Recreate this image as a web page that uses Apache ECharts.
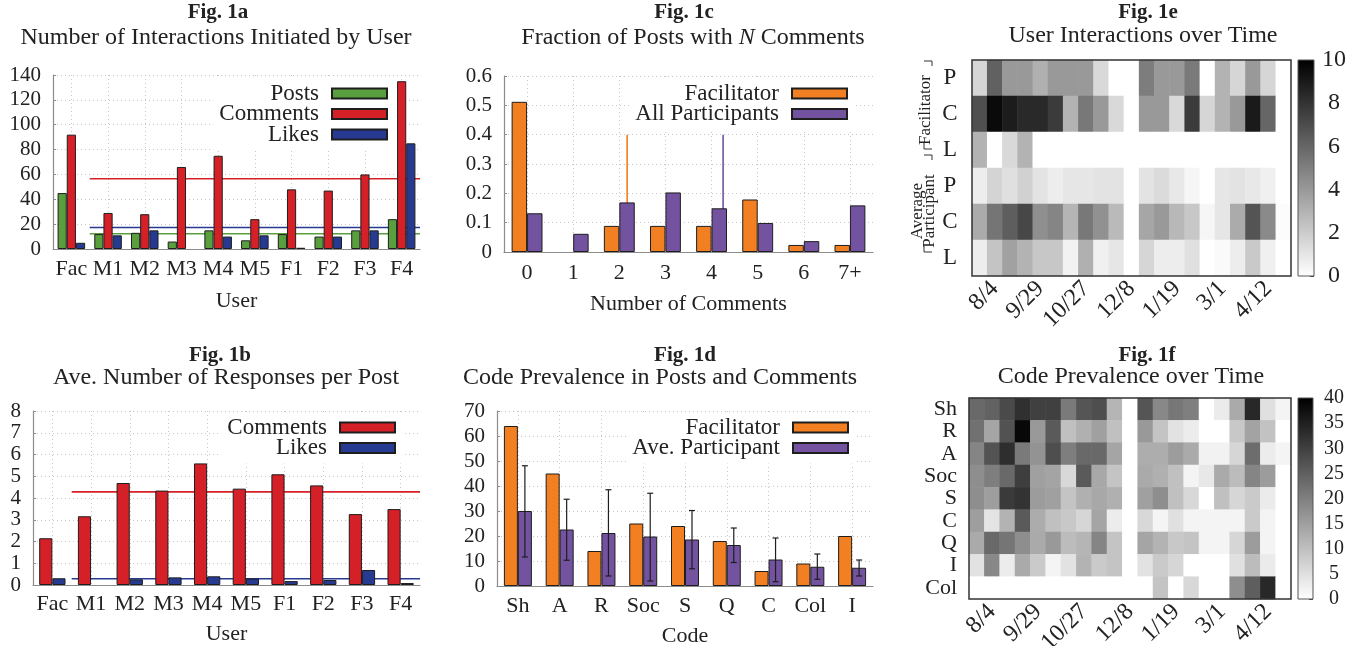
<!DOCTYPE html>
<html>
<head>
<meta charset="utf-8">
<script src="https://cdn.jsdelivr.net/npm/echarts@6/dist/echarts.min.js"></script>
<style>
  html, body { margin: 0; padding: 0; background: #fff; }
  #chart { width: 1366px; height: 646px; }
</style>
</head>
<body>
<div id="chart"></div>
<script>
// ---- Fig 1a / 1b : per user ----
const users = ['Fac', 'M1', 'M2', 'M3', 'M4', 'M5', 'F1', 'F2', 'F3', 'F4'];
const posts = [45, 12, 13, 6, 15, 7, 12, 10, 15, 24];
const comments = [92, 29, 28, 66, 75, 24, 48, 47, 60, 135];
const likes = [5, 11, 15, 0, 10, 11, 1, 10, 15, 85];
const avgPosts = 12.3;
const avgComments = 56.5;
const avgLikes = 17.3;

const commentsPerPost = [2.15, 3.16, 4.69, 4.34, 5.59, 4.43, 5.09, 4.58, 3.26, 3.49];
const likesPerPost = [0.31, 0, 0.26, 0.35, 0.40, 0.30, 0.18, 0.23, 0.69, 0.09];
const avgCommentsPerPost = 4.28;
const avgLikesPerPost = 0.29;

// ---- Fig 1c : fraction of posts with N comments ----
const nComments = ['0', '1', '2', '3', '4', '5', '6', '7+'];
const facFraction = [0.512, 0, 0.089, 0.089, 0.089, 0.179, 0.024, 0.024];
const allFraction = [0.132, 0.062, 0.169, 0.203, 0.149, 0.099, 0.037, 0.159];
const facMeanN = 2.17;
const allMeanN = 4.25;
const meanLineTop = 0.4;

// ---- Fig 1d : code prevalence ----
const codes = ['Sh', 'A', 'R', 'Soc', 'S', 'Q', 'C', 'Col', 'I'];
const facCode = [64, 45, 14, 25, 24, 18, 6, 9, 20];
const partCode = [30, 22.6, 21.2, 19.8, 18.6, 16.4, 10.6, 7.7, 7.3];
const partLow = [11.6, 10.3, 4.0, 2.0, 6.9, 9.4, 1.7, 2.7, 4.0];
const partHigh = [48.1, 34.7, 38.5, 37.1, 30.2, 23.2, 19.2, 12.8, 10.4];

// ---- Fig 1e / 1f : heatmaps over time ----
const timeTicks = ['', '8/4', '', '', '9/29', '', '', '10/27', '', '', '12/8', '', '', '1/19', '', '', '3/1', '', '', '4/12', ''];
const rowsE = ['P', 'C', 'L', 'P', 'C', 'L'];
const facP = [1.6, 6.2, 4.0, 4.0, 3.1, 4.0, 4.0, 4.0, 1.5, 0, 0, 5.1, 4.0, 4.0, 5.2, 0, 3.0, 1.6, 4.0, 1.6, 0];
const facC = [6.9, 9.6, 8.9, 8.4, 8.4, 7.7, 3.0, 5.3, 4.0, 1.5, 0, 4.0, 4.0, 1.5, 7.7, 1.6, 3.0, 4.0, 9.0, 6.0, 0];
const facL = [3.0, 0, 1.5, 3.0, 0, 0, 0, 0, 0, 0, 0, 0, 0, 0, 0, 0, 0, 0, 0, 0, 0];
const avgP = [0.7, 1.7, 1.2, 1.8, 1.1, 0.7, 1.0, 1.0, 1.1, 1.1, 0, 1.1, 1.4, 0.9, 0.35, 0, 1.0, 1.1, 0.9, 0.6, 0];
const avgC = [3.3, 5.4, 6.3, 7.2, 4.4, 4.8, 2.9, 5.3, 4.3, 2.7, 0, 3.5, 4.0, 2.8, 2.2, 0.35, 1.0, 3.3, 6.7, 4.6, 0.1];
const avgL = [0.7, 2.3, 3.7, 3.0, 2.2, 2.2, 0.5, 3.1, 0.6, 1.0, 0, 1.6, 0.7, 0.7, 1.2, 0, 0.2, 0.7, 2.1, 0.6, 0];

const rowsF = ['Sh', 'R', 'A', 'Soc', 'S', 'C', 'Q', 'I', 'Col'];
const codeSh = [23.5, 24.6, 28.4, 32.5, 30, 30, 20.9, 26.7, 27.8, 11.6, 0, 26.7, 18.7, 21.3, 20.1, 0, 3.1, 13.3, 33.7, 4.9, 1.7];
const codeR = [22.3, 14.1, 27.1, 38.7, 16, 25.9, 9.9, 12.4, 14.9, 9.9, 0, 16, 9.3, 4.5, 3.0, 0, 0, 8.6, 14.4, 9.6, 0];
const codeA = [19.1, 27, 32.8, 20.9, 16.9, 27.8, 20.2, 23.5, 23.5, 14.1, 0, 12.9, 12.9, 15.5, 13.3, 2.0, 2.0, 6.4, 22.9, 3.0, 1.7];
const codeSoc = [17.7, 20.2, 23.5, 30.3, 14.9, 14.3, 6.1, 25.9, 13.6, 9.3, 0, 13.3, 12.4, 9.9, 1.7, 3.6, 13.3, 10.5, 19.1, 15.5, 0];
const codeS = [17.7, 15.2, 30.9, 32, 15.5, 14.9, 9.3, 12.4, 13.6, 12.4, 0, 14.9, 17.7, 9.9, 6.1, 0, 9.9, 6.4, 8.3, 3.1, 0];
const codeC = [15.2, 4.2, 11.9, 25.9, 13, 9.9, 8.6, 6.4, 14.1, 3.0, 0, 6.1, 1.7, 4.9, 1.7, 1.7, 1.7, 1.7, 8.3, 1.7, 0];
const codeQ = [13.3, 23.5, 21.6, 17.7, 13.3, 16, 10.5, 11.6, 19.1, 9.3, 0, 14.1, 11.9, 8.6, 9.3, 1.7, 1.7, 6.4, 15.5, 1.7, 0];
const codeI = [4.5, 18.7, 3.0, 13.3, 8.3, 1.7, 4.5, 11.9, 8.3, 9.3, 0, 4.5, 8.3, 6.4, 0, 0, 0, 4.9, 10.5, 3.1, 0];
const codeCol = [0, 0, 0, 0, 0, 0, 0, 0, 0, 0, 0, 0, 9.3, 0, 6.1, 0, 0, 17.7, 25.3, 33.7, 0];

// ---- styling ----
const font = 'Liberation Serif';
const ink = '#222';
const axisGray = '#8c8c8c';
const C_GREEN = '#5a9f3e';
const C_RED = '#d62028';
const C_BLUE = '#263a92';
const C_ORANGE = '#f27f21';
const C_PURPLE = '#7352a0';

const toCells = (rows) => {
  const out = [];
  rows.forEach((row, r) => row.forEach((v, c) => out.push([c, r, v])));
  return out;
};
const heatE = toCells([facP, facC, facL, avgP, avgC, avgL]);
const heatF = toCells([codeSh, codeR, codeA, codeSoc, codeS, codeC, codeQ, codeI, codeCol]);

// zero-height bars are left undrawn, as in the original figure
const barData = (arr) => arr.map((v) => (v === 0 ? { value: 0, itemStyle: { borderWidth: 0 } } : v));
const barStyle = (color) => ({ color, borderColor: '#1e1e1e', borderWidth: 1 });

const valueY = (gridIndex, max, interval) => ({
  type: 'value', gridIndex, min: 0, max, interval,
  axisLine: { show: true, onZero: false, lineStyle: { color: axisGray, width: 1.2 } },
  axisTick: { show: true, inside: true, length: 3, lineStyle: { color: axisGray } },
  axisLabel: { color: ink, fontFamily: font, fontSize: 21, margin: 12 },
  splitLine: { show: true, lineStyle: { color: '#c8c8c8', type: [1, 3] } },
});

const catX = (gridIndex, data, name, nameGap, margin) => ({
  type: 'category', gridIndex, data, name, nameLocation: 'middle', nameGap,
  nameTextStyle: { color: ink, fontFamily: font, fontSize: 22 },
  axisLine: { show: true, onZero: false, lineStyle: { color: axisGray, width: 1.2 } },
  axisTick: { show: false },
  axisLabel: { color: ink, fontFamily: font, fontSize: 22, margin, interval: 0 },
  splitLine: { show: true, interval: 0, alignWithLabel: true, lineStyle: { color: '#c8c8c8', type: [1, 3] } },
});

const hiddenX = (gridIndex, min, max) => ({ type: 'value', gridIndex, min, max, show: false });

const heatX = (gridIndex) => ({
  type: 'category', gridIndex, data: timeTicks,
  axisLine: { show: false }, axisTick: { show: false }, splitLine: { show: false },
  axisLabel: { color: ink, fontFamily: font, fontSize: 24, rotate: 45, interval: 0, margin: 9 },
});

const colorbarY = (gridIndex, max, interval, fontSize, margin) => ({
  type: 'value', gridIndex, min: 0, max, interval, position: 'right',
  axisLine: { show: false },
  axisTick: { show: true, inside: true, length: 4, lineStyle: { color: '#444' } },
  splitLine: { show: false },
  axisLabel: { color: ink, fontFamily: font, fontSize, margin, align: 'center' },
});

const gradient = {
  type: 'linear', x: 0, y: 0, x2: 0, y2: 1,
  colorStops: [{ offset: 0, color: '#000' }, { offset: 1, color: '#fff' }],
};

const legendBase = {
  orient: 'vertical', align: 'right', icon: 'rect', itemWidth: 55, itemHeight: 10, itemGap: -2.5,
  backgroundColor: '#fff', padding: [4, 6], selectedMode: false,
  textStyle: { fontFamily: font, fontSize: 23, color: ink, padding: [0, 8, 0, 0] },
};

const avgLine = (name, xIdx, yIdx, value, color) => ({
  name, type: 'line', xAxisIndex: xIdx, yAxisIndex: yIdx, z: 1, symbol: 'none', silent: true,
  lineStyle: { color, width: 1.6 }, data: [[1, value], [10, value]],
});

const vLine = (name, value, color) => ({
  name, type: 'line', xAxisIndex: 5, yAxisIndex: 2, z: 1, symbol: 'none', silent: true,
  lineStyle: { color, width: 1.6 }, data: [[value, 0], [value, meanLineTop]],
});

// text decorations
const txt = (x, y, text, size, weight, extra) => Object.assign({
  type: 'text', x, y, silent: true,
  style: Object.assign({
    text, fontFamily: font, fontSize: size, fontWeight: weight || 'normal', fill: ink,
    align: 'center', verticalAlign: 'middle', textAlign: 'center', textVerticalAlign: 'middle',
  }, (extra && extra.style) || {}),
}, extra && extra.rotation ? { rotation: extra.rotation } : {});

const bracket = (pts) => ({
  type: 'polyline', silent: true, shape: { points: pts },
  style: { stroke: '#333', lineWidth: 1, fill: null },
});

const graphics = [
  txt(218, 13, 'Fig. 1a', 21, 'bold'),
  txt(216, 38, 'Number of Interactions Initiated by User', 24),
  txt(220, 356, 'Fig. 1b', 21, 'bold'),
  txt(226, 378, 'Ave. Number of Responses per Post', 24),
  txt(684, 13, 'Fig. 1c', 21, 'bold'),
  txt(693, 38, 'Fraction of Posts with {i|N} Comments', 24, 'normal', {
    style: { rich: { i: { fontStyle: 'italic', fontFamily: font, fontSize: 24, fill: ink } } },
  }),
  txt(685, 356, 'Fig. 1d', 21, 'bold'),
  txt(660, 378, 'Code Prevalence in Posts and Comments', 24),
  txt(1148, 13, 'Fig. 1e', 21, 'bold'),
  txt(1143, 36, 'User Interactions over Time', 24),
  txt(1147, 356, 'Fig. 1f', 21, 'bold'),
  txt(1131, 377, 'Code Prevalence over Time', 24),
  txt(926, 110, 'Facilitator', 17, 'normal', { rotation: Math.PI / 2 }),
  txt(924, 211, 'Average\nParticipant', 17, 'normal', { rotation: Math.PI / 2, style: { lineHeight: 12 } }),
  bracket([[924, 61], [932, 61], [932, 66]]),
  bracket([[924, 143], [924, 149], [932, 149]]),
  bracket([[924, 155], [932, 155], [932, 160]]),
  bracket([[924, 246], [924, 252], [932, 252]]),
];

const option = {
  animation: false,
  backgroundColor: '#fff',
  textStyle: { fontFamily: font },
  grid: [
    { left: 53, top: 75, width: 367, height: 174, outerBoundsMode: 'none' },
    { left: 33, top: 411, width: 387, height: 174, outerBoundsMode: 'none' },
    { left: 504, top: 76, width: 369, height: 176, outerBoundsMode: 'none' },
    { left: 497, top: 411, width: 376, height: 175, outerBoundsMode: 'none' },
    { left: 972, top: 60, width: 319, height: 216, show: true, z: 10, borderColor: '#333', borderWidth: 1.5, backgroundColor: 'transparent', outerBoundsMode: 'none' },
    { left: 1298, top: 60, width: 16, height: 216, show: true, z: 10, borderColor: '#555', borderWidth: 1, backgroundColor: 'transparent', outerBoundsMode: 'none' },
    { left: 969, top: 398, width: 322, height: 201, show: true, z: 10, borderColor: '#333', borderWidth: 1.5, backgroundColor: 'transparent', outerBoundsMode: 'none' },
    { left: 1298, top: 398, width: 15, height: 201, show: true, z: 10, borderColor: '#555', borderWidth: 1, backgroundColor: 'transparent', outerBoundsMode: 'none' },
  ],
  xAxis: [
    catX(0, users, 'User', 41, 9),
    hiddenX(0, 0, 10),
    catX(1, users, 'User', 38, 8),
    hiddenX(1, 0, 10),
    catX(2, nComments, 'Number of Comments', 41, 10),
    hiddenX(2, -0.5, 7.5),
    catX(3, codes, 'Code', 39, 9),
    heatX(4),
    { type: 'category', gridIndex: 5, data: ['cb'], show: false },
    heatX(6),
    { type: 'category', gridIndex: 7, data: ['cb'], show: false },
  ],
  yAxis: [
    valueY(0, 140, 20),
    valueY(1, 8, 1),
    valueY(2, 0.6, 0.1),
    valueY(3, 70, 10),
    {
      type: 'category', gridIndex: 4, data: rowsE, inverse: true,
      axisLine: { show: false }, axisTick: { show: false }, splitLine: { show: false },
      axisLabel: { color: ink, fontFamily: font, fontSize: 23, margin: 22, align: 'center', interval: 0 },
    },
    colorbarY(5, 10, 2, 24, 20),
    {
      type: 'category', gridIndex: 6, data: rowsF, inverse: true,
      axisLine: { show: false }, axisTick: { show: false }, splitLine: { show: false },
      axisLabel: { color: ink, fontFamily: font, fontSize: 22, margin: 12, interval: 0 },
    },
    colorbarY(7, 40, 5, 20, 21),
  ],
  legend: [
    Object.assign({}, legendBase, { data: ['Posts', 'Comments', 'Likes'], right: 972, top: 78 }),
    Object.assign({}, legendBase, { data: ['Comments', 'Likes'], right: 964, top: 412 }),
    Object.assign({}, legendBase, { data: ['Facilitator', 'All Participants'], right: 512, top: 78 }),
    Object.assign({}, legendBase, { data: ['Facilitator', 'Ave. Participant'], right: 511, top: 412 }),
  ],
  visualMap: [
    { show: false, seriesIndex: 17, min: 0, max: 10, inRange: { color: ['#ffffff', '#000000'] } },
    { show: false, seriesIndex: 19, min: 0, max: 40, inRange: { color: ['#ffffff', '#000000'] } },
  ],
  graphic: { elements: graphics },
  series: [
    // 0-5: Fig 1a
    { name: 'Posts', type: 'bar', xAxisIndex: 0, yAxisIndex: 0, data: barData(posts), itemStyle: barStyle(C_GREEN), barGap: '0%', barCategoryGap: '25%' },
    { name: 'Comments', type: 'bar', xAxisIndex: 0, yAxisIndex: 0, data: barData(comments), itemStyle: barStyle(C_RED), barGap: '0%', barCategoryGap: '25%' },
    { name: 'Likes', type: 'bar', xAxisIndex: 0, yAxisIndex: 0, data: barData(likes), itemStyle: barStyle(C_BLUE), barGap: '0%', barCategoryGap: '25%' },
    avgLine('avg comments', 1, 0, avgComments, C_RED),
    avgLine('avg likes', 1, 0, avgLikes, C_BLUE),
    avgLine('avg posts', 1, 0, avgPosts, C_GREEN),
    // 6-9: Fig 1b
    { name: 'Comments', type: 'bar', xAxisIndex: 2, yAxisIndex: 1, data: barData(commentsPerPost), itemStyle: barStyle(C_RED), barGap: '0%', barCategoryGap: '32%' },
    { name: 'Likes', type: 'bar', xAxisIndex: 2, yAxisIndex: 1, data: barData(likesPerPost), itemStyle: barStyle(C_BLUE), barGap: '0%', barCategoryGap: '32%' },
    avgLine('avg comments/post', 3, 1, avgCommentsPerPost, C_RED),
    avgLine('avg likes/post', 3, 1, avgLikesPerPost, C_BLUE),
    // 10-13: Fig 1c
    { name: 'Facilitator', type: 'bar', xAxisIndex: 4, yAxisIndex: 2, data: barData(facFraction), itemStyle: barStyle(C_ORANGE), barGap: '0%', barCategoryGap: '33%' },
    { name: 'All Participants', type: 'bar', xAxisIndex: 4, yAxisIndex: 2, data: barData(allFraction), itemStyle: barStyle(C_PURPLE), barGap: '0%', barCategoryGap: '33%' },
    vLine('fac mean', facMeanN, C_ORANGE),
    vLine('all mean', allMeanN, C_PURPLE),
    // 14-16: Fig 1d
    { name: 'Facilitator', type: 'bar', xAxisIndex: 6, yAxisIndex: 3, data: facCode, itemStyle: barStyle(C_ORANGE), barGap: '0%', barCategoryGap: '33%' },
    { name: 'Ave. Participant', type: 'bar', xAxisIndex: 6, yAxisIndex: 3, data: partCode, itemStyle: barStyle(C_PURPLE), barGap: '0%', barCategoryGap: '33%' },
    {
      name: 'error', type: 'custom', xAxisIndex: 6, yAxisIndex: 3, z: 5, silent: true,
      data: codes.map((_, i) => [i, partLow[i], partHigh[i]]),
      renderItem: (params, api) => {
        const band = api.size([1, 0])[0];
        const off = band * 0.67 / 4;
        const lo = api.coord([api.value(0), api.value(1)]);
        const hi = api.coord([api.value(0), api.value(2)]);
        const x = lo[0] + off;
        const st = { stroke: '#1e1e1e', lineWidth: 1.2 };
        return {
          type: 'group',
          children: [
            { type: 'line', shape: { x1: x, y1: lo[1], x2: x, y2: hi[1] }, style: st },
            { type: 'line', shape: { x1: x - 3, y1: lo[1], x2: x + 3, y2: lo[1] }, style: st },
            { type: 'line', shape: { x1: x - 3, y1: hi[1], x2: x + 3, y2: hi[1] }, style: st },
          ],
        };
      },
    },
    // 17-18: Fig 1e
    { name: 'interactions', type: 'heatmap', xAxisIndex: 7, yAxisIndex: 4, data: heatE, itemStyle: { borderWidth: 0 } },
    { name: 'cbE', type: 'bar', xAxisIndex: 8, yAxisIndex: 5, data: [10], barWidth: '100%', silent: true, itemStyle: { color: gradient } },
    // 19-20: Fig 1f
    { name: 'codes', type: 'heatmap', xAxisIndex: 9, yAxisIndex: 6, data: heatF, itemStyle: { borderWidth: 0 } },
    { name: 'cbF', type: 'bar', xAxisIndex: 10, yAxisIndex: 7, data: [40], barWidth: '100%', silent: true, itemStyle: { color: gradient } },
  ],
};

const chart = echarts.init(document.getElementById('chart'), null, { renderer: 'canvas' });
chart.setOption(option);
</script>
</body>
</html>
